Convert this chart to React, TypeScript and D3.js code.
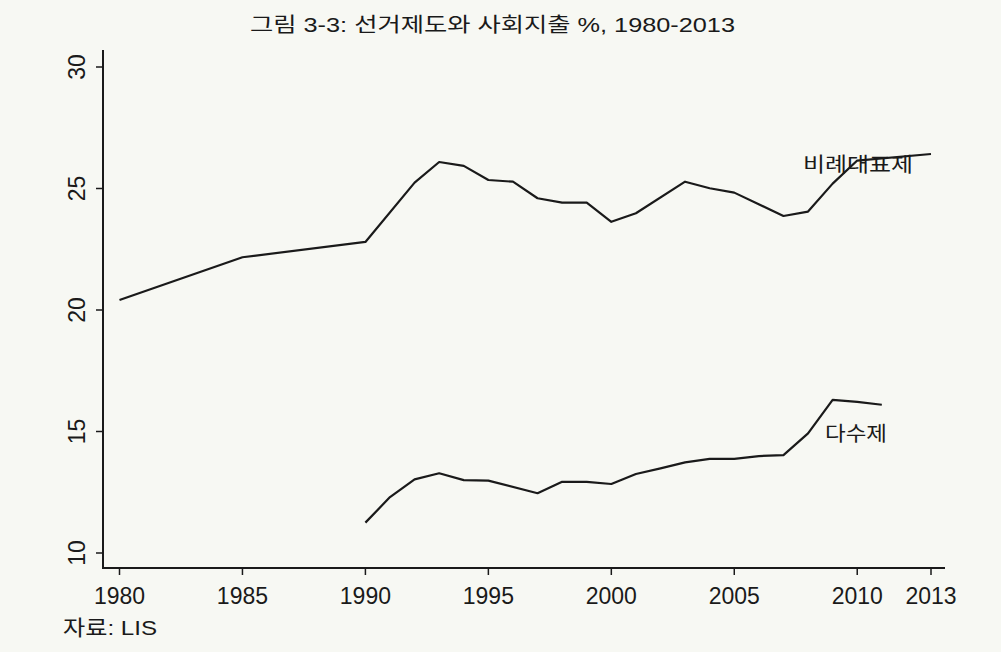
import React from "react";
import * as d3 from "d3";

const propYears = [1980, 1985, 1990, 1992, 1993, 1994, 1995, 1996, 1997, 1998, 1999, 2000, 2001, 2003, 2004, 2005, 2007, 2008, 2009, 2010, 2013];
const propValues = [20.41, 22.17, 22.8, 25.24, 26.09, 25.93, 25.35, 25.28, 24.6, 24.42, 24.42, 23.63, 23.98, 25.28, 25.01, 24.83, 23.87, 24.05, 25.2, 26.15, 26.42];

const majYears = [1990, 1991, 1992, 1993, 1994, 1995, 1997, 1998, 1999, 2000, 2001, 2002, 2003, 2004, 2005, 2006, 2007, 2008, 2009, 2010, 2011];
const majValues = [11.25, 12.3, 13.03, 13.28, 13.0, 12.98, 12.46, 12.93, 12.93, 12.84, 13.25, 13.48, 13.73, 13.87, 13.87, 13.99, 14.03, 14.92, 16.3, 16.22, 16.1];

const xTicks = [1980, 1985, 1990, 1995, 2000, 2005, 2010, 2013];
const yTicks = [10, 15, 20, 25, 30];

const title = "그림 3-3: 선거제도와 사회지출 %, 1980-2013";
const propLabel = "비례대표제";
const majLabel = "다수제";
const source = "자료: LIS";

const W = 1001;
const H = 652;
const FONT = "'Liberation Sans', Arial, 'Noto Sans CJK KR', sans-serif";

export default function App() {
  const x = d3.scaleLinear().domain([1980, 2013]).range([119.5, 931]);
  const y = d3.scaleLinear().domain([10, 30]).range([553, 67]);
  const line = d3
    .line<[number, number]>()
    .x((d) => x(d[0]))
    .y((d) => y(d[1]));
  const propData: [number, number][] = propYears.map((yr, i) => [yr, propValues[i]]);
  const majData: [number, number][] = majYears.map((yr, i) => [yr, majValues[i]]);
  const axisX = 103;
  const axisY = 568;
  const ink = "#1a1a1a";

  return (
    <svg
      width={W}
      height={H}
      style={{ position: "absolute", left: 0, top: 0, display: "block" }}
      fontFamily={FONT}
    >
      <rect x={0} y={0} width={W} height={H} fill="#f7f8f3" />
      <text x={250} y={32} fontSize={20} fill={ink} textLength={485} lengthAdjust="spacingAndGlyphs">
        {title}
      </text>
      {/* axes */}
      <line x1={axisX} x2={axisX} y1={50} y2={axisY} stroke={ink} strokeWidth={2} />
      <line x1={axisX - 1} x2={945} y1={axisY} y2={axisY} stroke={ink} strokeWidth={2} />
      {yTicks.map((t) => (
        <g key={"y" + t}>
          <line x1={axisX - 7} x2={axisX} y1={y(t)} y2={y(t)} stroke={ink} strokeWidth={1.5} />
          <text
            transform={`translate(85, ${y(t)}) rotate(-90)`}
            textAnchor="middle"
            fontSize={23}
            fill={ink}
          >
            {t}
          </text>
        </g>
      ))}
      {xTicks.map((t) => (
        <g key={"x" + t}>
          <line x1={x(t)} x2={x(t)} y1={axisY} y2={axisY + 7} stroke={ink} strokeWidth={1.5} />
          <text x={x(t)} y={604} textAnchor="middle" fontSize={23} fill={ink}>
            {t}
          </text>
        </g>
      ))}
      <path d={line(propData) || ""} fill="none" stroke={ink} strokeWidth={2.2} strokeLinejoin="round" />
      <path d={line(majData) || ""} fill="none" stroke={ink} strokeWidth={2.2} strokeLinejoin="round" />
      <text x={803} y={172} fontSize={20} fill={ink} textLength={110} lengthAdjust="spacingAndGlyphs">
        {propLabel}
      </text>
      <text x={825} y={441} fontSize={20} fill={ink} textLength={62} lengthAdjust="spacingAndGlyphs">
        {majLabel}
      </text>
      <text x={63} y={635} fontSize={21} fill={ink} textLength={94} lengthAdjust="spacingAndGlyphs">
        {source}
      </text>
    </svg>
  );
}
